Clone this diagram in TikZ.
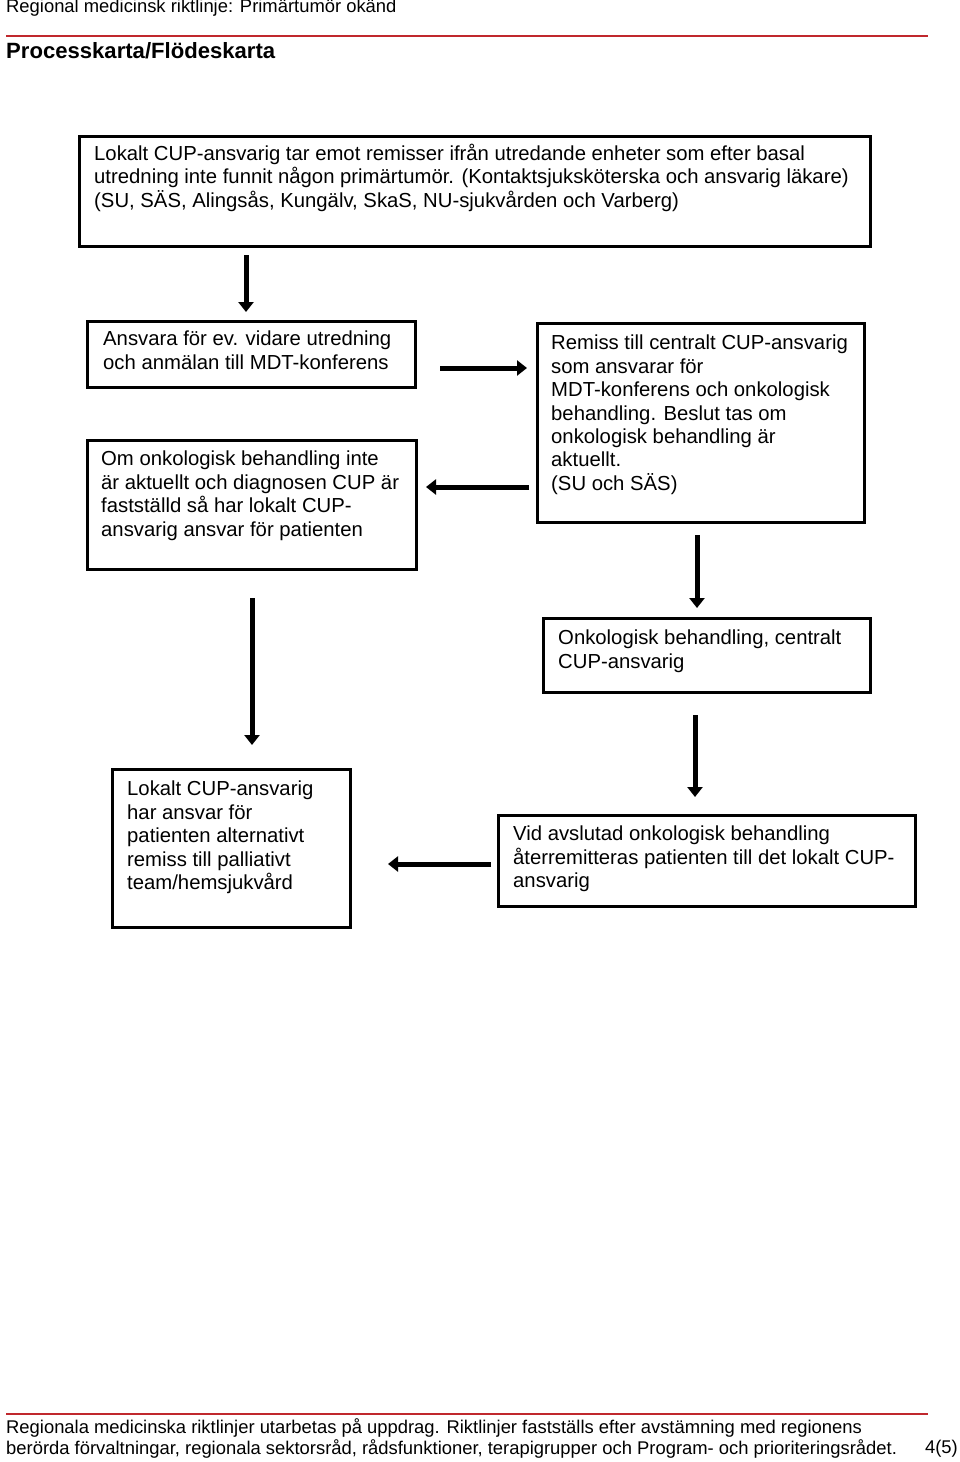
\documentclass[tikz,border=0pt]{standalone}
\usepackage{fontspec}
\setmainfont{Liberation Sans}
\usetikzlibrary{arrows.meta}
\definecolor{rulered}{RGB}{192,40,45}
\newcommand{\boxfont}{\fontsize{20.3}{23.4}\selectfont}
\tikzset{
        box/.style={draw=black, line width=3pt, inner sep=0pt, anchor=north west},
        boxtext/.style={anchor=north west, inner sep=0pt, align=left, font=\boxfont},
        flow/.style={line width=5pt, -{Triangle[length=10pt, width=15pt]}},
        redrule/.style={draw=rulered, line width=2pt},
        pagetext/.style={anchor=west, inner sep=0pt, align=left, font=\fontsize{18.4}{21}\selectfont}
          }
\begin{document}
\begin{tikzpicture}[x=1pt, y=-1pt]
        \useasboundingbox[fill=white] (0,0) rectangle (960,1462);
        \node[pagetext] (head) at (6,8) {Regional medicinsk riktlinje: Primärtumör okänd};
        \coordinate (r1a) at (6,36);
        \coordinate (r1b) at (928,36);
        \draw[redrule] (r1a) -- (r1b);
        \node[pagetext, font=\fontsize{22.1}{26}\selectfont\bfseries] (title) at (6,51) {Processkarta/Flödeskarta};
        \node[box, minimum width=791, minimum height=110] (b1) at (78,135) {};
        \node[box, minimum width=328, minimum height=66] (b2) at (86,320) {};
        \node[box, minimum width=329, minimum height=129] (b3) at (86,439) {};
        \node[box, minimum width=327, minimum height=199] (b4) at (536,322) {};
        \node[box, minimum width=327, minimum height=74] (b5) at (542,617) {};
        \node[box, minimum width=238, minimum height=158] (b6) at (111,768) {};
        \node[box, minimum width=417, minimum height=91] (b7) at (497,814) {};
        \node[boxtext] (t1) at (94,144) {Lokalt CUP-ansvarig tar emot remisser ifrån utredande enheter som efter basal\\utredning inte funnit någon primärtumör. (Kontaktsjuksköterska och ansvarig läkare)\\(SU, SÄS, Alingsås, Kungälv, SkaS, NU-sjukvården och Varberg)};
        \node[boxtext] (t2) at (103,331) {Ansvara för ev. vidare utredning\\och anmälan till MDT-konferens};
        \node[boxtext] (t3) at (101,451) {Om onkologisk behandling inte\\är aktuellt och diagnosen CUP är\\fastställd så har lokalt CUP-\\ansvarig ansvar för patienten};
        \node[boxtext] (t4) at (551,335) {Remiss till centralt CUP-ansvarig\\som ansvarar för\\MDT-konferens och onkologisk\\behandling. Beslut tas om\\onkologisk behandling är\\aktuellt.\\(SU och SÄS)};
        \node[boxtext] (t5) at (558,630) {Onkologisk behandling, centralt\\CUP-ansvarig};
        \node[boxtext] (t6) at (127,781) {Lokalt CUP-ansvarig\\har ansvar för\\patienten alternativt\\remiss till palliativt\\team/hemsjukvård};
        \node[boxtext] (t7) at (513,826) {Vid avslutad onkologisk behandling\\återremitteras patienten till det lokalt CUP-\\ansvarig};
        \draw[flow, shorten <=7pt, shorten >=8pt] (246,0 |- b1.south) -- (246,0 |- b2.north);
        \draw[flow, shorten <=23pt, shorten >=9pt] (b2.east |- 0,368) -- (b4.west |- 0,368);
        \draw[flow, shorten <=7pt, shorten >=8pt] (b4.west |- 0,487) -- (b3.east |- 0,487);
        \draw[flow, shorten <=11pt, shorten >=9pt] (697,0 |- b4.south) -- (697,0 |- b5.north);
        \draw[flow, shorten <=27pt, shorten >=23pt] (252,0 |- b3.south) -- (252,0 |- b6.north);
        \draw[flow, shorten <=21pt, shorten >=17pt] (695,0 |- b5.south) -- (695,0 |- b7.north);
        \draw[flow, shorten <=6pt, shorten >=36pt] (b7.west |- 0,864) -- (b6.east |- 0,864);
        \coordinate (r2a) at (6,1414);
        \coordinate (r2b) at (928,1414);
        \draw[redrule] (r2a) -- (r2b);
        \node[pagetext] (foot) at (6,1438.5) {Regionala medicinska riktlinjer utarbetas på uppdrag. Riktlinjer fastställs efter avstämning med regionens\\berörda förvaltningar, regionala sektorsråd, rådsfunktioner, terapigrupper och Program- och prioriteringsrådet.};
        \node[pagetext, anchor=east] (page) at (958,1449) {4(5)};
\end{tikzpicture}
\end{document}
